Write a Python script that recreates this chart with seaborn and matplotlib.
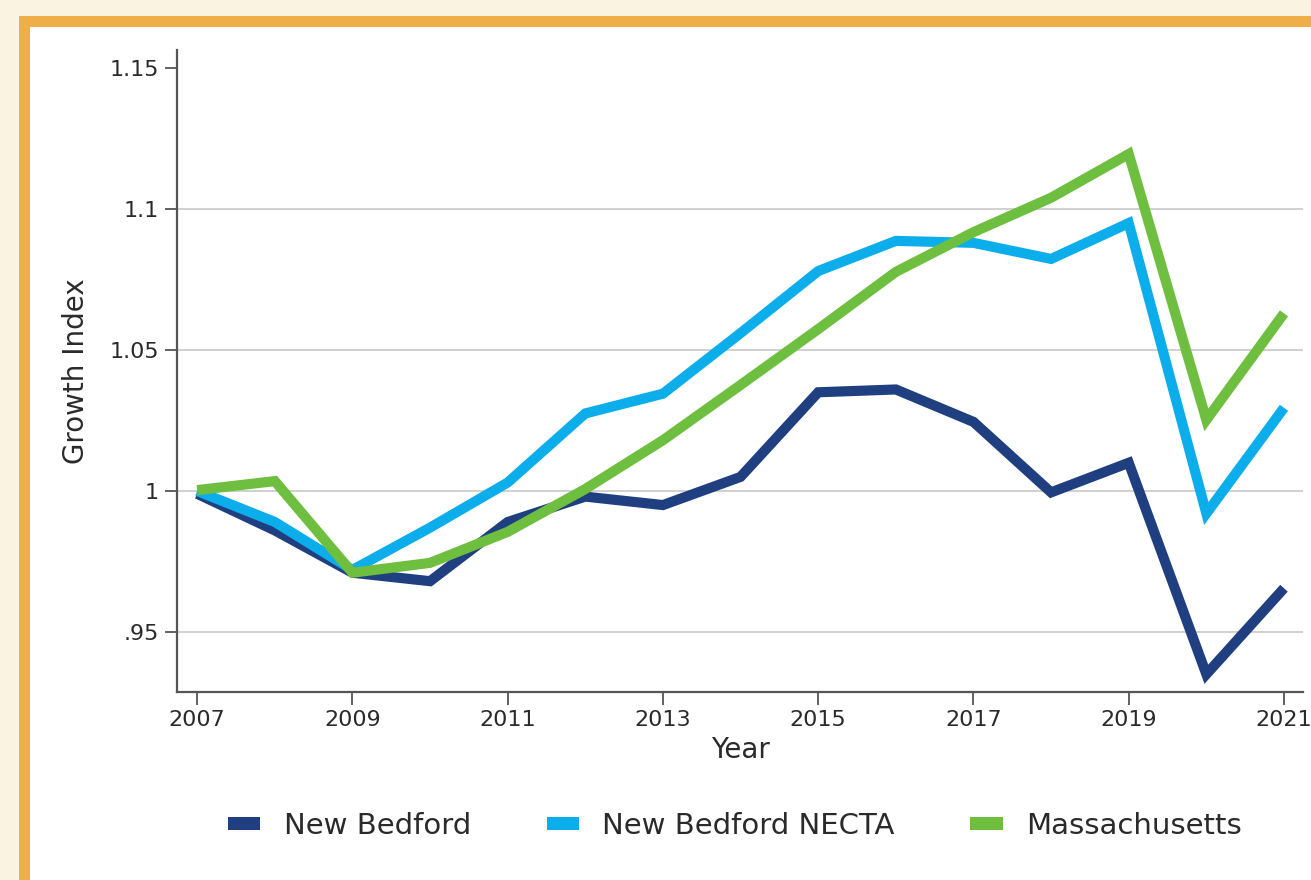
"""
Growth index chart: New Bedford vs NECTA vs Massachusetts, 2007-2021
"""
import matplotlib
matplotlib.use("Agg")
import matplotlib.pyplot as plt
from matplotlib.patches import Rectangle, Patch
import seaborn as sns
import pandas as pd

# data
years = list(range(2007, 2022))
new_bedford = [0.999, 0.986, 0.971, 0.968, 0.989, 0.998, 0.995, 1.005,
               1.035, 1.036, 1.0245, 0.9995, 1.010, 0.935, 0.9655]
necta = [1.000, 0.989, 0.972, 0.987, 1.003, 1.0275, 1.0345, 1.056,
         1.078, 1.0887, 1.088, 1.0823, 1.095, 0.992, 1.0295]
massachusetts = [1.0003, 1.0035, 0.971, 0.9745, 0.9855, 1.0007, 1.018, 1.0376,
                 1.0574, 1.0777, 1.0918, 1.104, 1.1195, 1.0252, 1.063]

series_names = ["New Bedford", "New Bedford NECTA", "Massachusetts"]
colors = ["#1F3F80", "#0BAEEB", "#6EBE3F"]
x_ticks = [2007, 2009, 2011, 2013, 2015, 2017, 2019, 2021]
y_ticks = [0.95, 1.0, 1.05, 1.1, 1.15]
y_tick_labels = [".95", "1", "1.05", "1.1", "1.15"]

df = pd.DataFrame({
    "Year": years * 3,
    "value": new_bedford + necta + massachusetts,
    "series": sum([[n] * len(years) for n in series_names], []),
})

sns.set_theme(style="white")
plt.rcParams["font.family"] = ["DejaVu Sans"]

W, H = 1311, 880
fig = plt.figure(figsize=(W / 100, H / 100), dpi=100)
fig.patch.set_facecolor("#FBF3E1")

# orange frame + white panel (left / top edges visible)
fig.add_artist(Rectangle((19 / W, 0), 1, 1 - 16 / H, transform=fig.transFigure,
                         facecolor="#F0AE48", edgecolor="none", zorder=0))
fig.add_artist(Rectangle((30 / W, 0), 1, 1 - 27 / H, transform=fig.transFigure,
                         facecolor="white", edgecolor="none", zorder=0))

ax = fig.add_axes([177 / W, 1 - 692 / H, (1303 - 177) / W, (692 - 50) / H])
ax.set_facecolor("none")

sns.lineplot(data=df, x="Year", y="value", hue="series", hue_order=series_names,
             palette=colors, linewidth=7.3, ax=ax, legend=False, zorder=3)
for line in ax.get_lines():
    line.set_solid_joinstyle("miter")
    line.set_solid_capstyle("butt")

ax.set_xlim(2006.74, 2021.245)
ax.set_ylim(0.9287, 1.1564)
ax.set_xticks(x_ticks)
ax.set_xticklabels([str(t) for t in x_ticks])
ax.set_yticks(y_ticks)
ax.set_yticklabels(y_tick_labels)

for v in [0.95, 1.0, 1.05, 1.1]:
    ax.axhline(v, color="#C8C8C8", linewidth=1.2, zorder=1)

for side in ["top", "right"]:
    ax.spines[side].set_visible(False)
for side in ["left", "bottom"]:
    ax.spines[side].set_color("#555555")
    ax.spines[side].set_linewidth(1.6)

ax.tick_params(axis="both", which="major", direction="out", length=9, width=1.3,
               color="#555555", labelsize=16, labelcolor="#2A2A2A", pad=4,
               bottom=True, left=True)
ax.set_xlabel("Year", fontsize=20, color="#2A2A2A", labelpad=4)
ax.set_ylabel("Growth Index", fontsize=20, color="#2A2A2A", labelpad=14)

handles = [Patch(facecolor=c, edgecolor="none") for c in colors]
fig.legend(handles, series_names, loc="center", bbox_to_anchor=(735 / W, 1 - 826 / H),
           ncol=3, frameon=False, fontsize=21, handlelength=1.1, handleheight=0.35,
           handletextpad=0.8, columnspacing=2.6, labelcolor="#2A2A2A")

fig.savefig("out.png", dpi=100, facecolor=fig.get_facecolor())
